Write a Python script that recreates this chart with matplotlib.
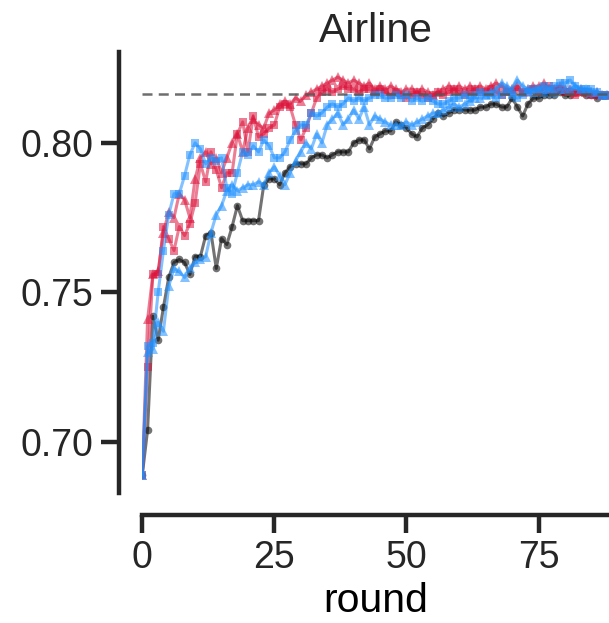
import numpy as np
import matplotlib
matplotlib.use('Agg')
import matplotlib.pyplot as plt

rounds = np.arange(89)

black_circ = [
    0.689, 0.704, 0.742, 0.734, 0.745, 0.755, 0.760, 0.761, 0.760, 0.756,
    0.762, 0.762, 0.769, 0.770, 0.758, 0.768, 0.766, 0.772, 0.779, 0.774,
    0.774, 0.774, 0.774, 0.786, 0.788, 0.788, 0.786, 0.790, 0.792, 0.793,
    0.793, 0.793, 0.795, 0.796, 0.796, 0.795, 0.796, 0.797, 0.797, 0.797,
    0.800, 0.801, 0.801, 0.798, 0.802, 0.803, 0.804, 0.804, 0.807, 0.806,
    0.805, 0.803, 0.802, 0.805, 0.806, 0.808, 0.810, 0.809, 0.810, 0.811,
    0.811, 0.811, 0.811, 0.811, 0.812, 0.812, 0.813, 0.813, 0.812, 0.812,
    0.815, 0.812, 0.809, 0.813, 0.815, 0.815, 0.816, 0.816, 0.816, 0.817,
    0.816, 0.816, 0.817, 0.817, 0.816, 0.816, 0.815, 0.816, 0.816,
]
red_tri = [
    0.689, 0.741, 0.756, 0.757, 0.770, 0.777, 0.775, 0.783, 0.781, 0.775,
    0.788, 0.795, 0.797, 0.793, 0.795, 0.790, 0.795, 0.800, 0.803, 0.797,
    0.805, 0.808, 0.806, 0.805, 0.810, 0.811, 0.813, 0.814, 0.813, 0.815,
    0.814, 0.816, 0.817, 0.818, 0.819, 0.820, 0.821, 0.822, 0.821, 0.820,
    0.821, 0.820, 0.819, 0.820, 0.818, 0.819, 0.818, 0.819, 0.818, 0.817,
    0.818, 0.818, 0.817, 0.818, 0.817, 0.816, 0.817, 0.818, 0.819, 0.818,
    0.819, 0.818, 0.819, 0.818, 0.819, 0.818, 0.819, 0.820, 0.819, 0.818,
    0.818, 0.819, 0.817, 0.818, 0.819, 0.819, 0.820, 0.818, 0.818, 0.819,
    0.818, 0.818, 0.817, 0.818, 0.817, 0.817, 0.817, 0.816, 0.816,
]
red_sq = [
    0.689, 0.725, 0.756, 0.756, 0.772, 0.768, 0.764, 0.772, 0.769, 0.773,
    0.780, 0.793, 0.787, 0.797, 0.791, 0.785, 0.790, 0.790, 0.803, 0.807,
    0.797, 0.809, 0.802, 0.803, 0.805, 0.806, 0.812, 0.813, 0.812, 0.806,
    0.801, 0.805, 0.810, 0.815, 0.817, 0.818, 0.817, 0.818, 0.819, 0.818,
    0.818, 0.817, 0.818, 0.818, 0.817, 0.818, 0.817, 0.816, 0.817, 0.816,
    0.815, 0.816, 0.817, 0.816, 0.815, 0.816, 0.817, 0.816, 0.817, 0.818,
    0.817, 0.816, 0.817, 0.818, 0.817, 0.817, 0.818, 0.817, 0.816, 0.817,
    0.817, 0.818, 0.817, 0.817, 0.818, 0.817, 0.818, 0.819, 0.818, 0.818,
    0.817, 0.817, 0.816, 0.817, 0.817, 0.816, 0.816, 0.816, 0.816,
]
blue_sq = [
    0.689, 0.732, 0.733, 0.750, 0.764, 0.776, 0.783, 0.783, 0.789, 0.796,
    0.800, 0.798, 0.793, 0.795, 0.794, 0.795, 0.785, 0.783, 0.790, 0.797,
    0.796, 0.799, 0.797, 0.801, 0.799, 0.795, 0.795, 0.797, 0.801, 0.804,
    0.806, 0.806, 0.810, 0.809, 0.810, 0.812, 0.813, 0.812, 0.813, 0.815,
    0.814, 0.815, 0.814, 0.815, 0.816, 0.816, 0.815, 0.815, 0.816, 0.815,
    0.816, 0.814, 0.815, 0.814, 0.815, 0.814, 0.813, 0.813, 0.814, 0.815,
    0.815, 0.816, 0.815, 0.816, 0.817, 0.816, 0.816, 0.815, 0.816, 0.817,
    0.816, 0.815, 0.816, 0.817, 0.818, 0.818, 0.819, 0.818, 0.819, 0.820,
    0.820, 0.821, 0.819, 0.818, 0.818, 0.818, 0.817, 0.816, 0.816,
]
blue_tri = [
    0.689, 0.730, 0.731, 0.740, 0.737, 0.752, 0.758, 0.757, 0.755, 0.758,
    0.760, 0.761, 0.762, 0.770, 0.776, 0.779, 0.784, 0.786, 0.784, 0.785,
    0.786, 0.786, 0.787, 0.786, 0.790, 0.792, 0.789, 0.786, 0.790, 0.794,
    0.797, 0.800, 0.798, 0.803, 0.800, 0.806, 0.808, 0.810, 0.806, 0.808,
    0.811, 0.808, 0.812, 0.806, 0.809, 0.808, 0.807, 0.806, 0.806, 0.806,
    0.807, 0.806, 0.807, 0.808, 0.809, 0.810, 0.810, 0.811, 0.812, 0.813,
    0.812, 0.813, 0.814, 0.815, 0.815, 0.816, 0.817, 0.818, 0.820, 0.819,
    0.818, 0.821, 0.819, 0.818, 0.817, 0.818, 0.817, 0.818, 0.817, 0.818,
    0.818, 0.818, 0.819, 0.818, 0.818, 0.817, 0.817, 0.816, 0.816,
]
target = 0.8163

plt.rcParams['font.family'] = ['Liberation Sans', 'DejaVu Sans']
plt.rcParams['text.color'] = '#262626'
plt.rcParams['xtick.color'] = '#262626'
plt.rcParams['ytick.color'] = '#262626'

fig = plt.figure(figsize=(6.09, 6.23), dpi=100)
ax = fig.add_axes([142.3 / 609, 130 / 623, 467 / 609, 441 / 623])

style = dict(lw=2.2, alpha=0.55, markeredgewidth=0)
ax.plot(rounds, black_circ, color='black', marker='o', ms=5.5, **style)
ax.plot(rounds, red_sq, color='crimson', marker='s', ms=6, **style)
ax.plot(rounds, red_tri, color='crimson', marker='^', ms=6.5, **style)
ax.plot(rounds, blue_sq, color='dodgerblue', marker='s', ms=6, **style)
ax.plot(rounds, blue_tri, color='dodgerblue', marker='^', ms=6.5, **style)
ax.axhline(target, color='#555555', ls='--', lw=1.8, dashes=(4, 2.5), alpha=0.85)

ax.set_xlim(0, 88.4)
ax.set_ylim(0.6829, 0.8304)
ax.set_xticks([0, 25, 50, 75])
ax.set_yticks([0.70, 0.75, 0.80])
ax.set_yticklabels(['0.70', '0.75', '0.80'])

for s in ['top', 'right']:
    ax.spines[s].set_visible(False)
ax.spines['left'].set_position(('outward', 17))
ax.spines['bottom'].set_position(('outward', 16))
for s in ['left', 'bottom']:
    ax.spines[s].set_linewidth(3.2)
    ax.spines[s].set_color('#262626')
ax.tick_params(length=13, width=3.2, labelsize=27, pad=5)

ax.set_xlabel('round', fontsize=29.5, labelpad=4)
ax.set_title('Airline', fontsize=29.5, pad=7)

fig.savefig('out.png', dpi=100)
